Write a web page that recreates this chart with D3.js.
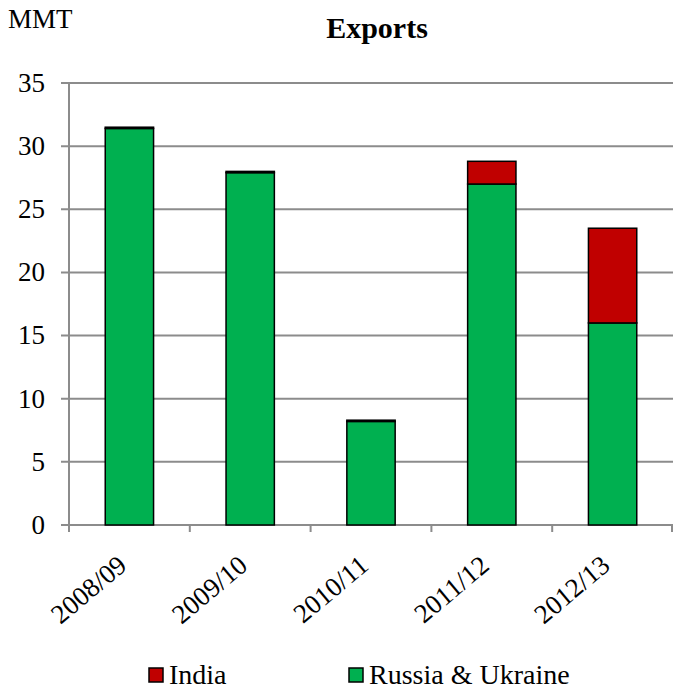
<!DOCTYPE html>
<html>
<head>
<meta charset="utf-8">
<script src="https://cdn.jsdelivr.net/npm/d3@7"></script>
<style>
  body { margin: 0; background: #fff; }
  svg { display: block; font-family: "Liberation Serif", "Times New Roman", serif; }
</style>
</head>
<body>
<svg id="chart" width="673" height="690"></svg>
<script>
// data (MMT)
var years = ["2008/09", "2009/10", "2010/11", "2011/12", "2012/13"];
var russiaUkraine = [31.4, 27.9, 8.2, 27.0, 16.0];
var india = [0.1, 0.1, 0.1, 1.8, 7.5];
var yTicks = [0, 5, 10, 15, 20, 25, 30, 35];

var seriesNames = ["Russia & Ukraine", "India"];
var colors = { "Russia & Ukraine": "#00b050", "India": "#c00000" };

var svg = d3.select("#chart");
var plotLeft = 69, plotRight = 673, plotTop = 83, plotBottom = 525;

var x = d3.scaleBand().domain(years).range([plotLeft, plotRight]).paddingInner(0.6).paddingOuter(0.3);
var xTick = d3.scaleBand().domain(years).range([plotLeft, plotRight]);
var y = d3.scaleLinear().domain([0, 35]).range([plotBottom, plotTop]);

// gridlines
svg.append("g").selectAll("line").data(yTicks).enter().append("line")
  .attr("x1", plotLeft - 8).attr("x2", plotRight)
  .attr("y1", function (d) { return y(d); }).attr("y2", function (d) { return y(d); })
  .attr("stroke", "#8c8c8c").attr("stroke-width", 2);

// y axis line
svg.append("line").attr("x1", plotLeft).attr("x2", plotLeft).attr("y1", plotTop).attr("y2", plotBottom + 7)
  .attr("stroke", "#8c8c8c").attr("stroke-width", 2);

// x ticks
svg.append("g").selectAll("line").data(years.concat(["end"])).enter().append("line")
  .attr("x1", function (d, i) { return i < years.length ? xTick(d) : plotRight - 1; })
  .attr("x2", function (d, i) { return i < years.length ? xTick(d) : plotRight - 1; })
  .attr("y1", plotBottom).attr("y2", plotBottom + 7)
  .attr("stroke", "#8c8c8c").attr("stroke-width", 2);

// y tick labels
svg.append("g").selectAll("text").data(yTicks).enter().append("text")
  .attr("x", 45).attr("y", function (d) { return y(d); })
  .attr("dy", "0.33em").attr("text-anchor", "end")
  .attr("font-size", 27).text(function (d) { return d; });

// stacked bars
var rows = years.map(function (yr, i) {
  return { year: yr, "Russia & Ukraine": russiaUkraine[i], "India": india[i] };
});
var stacked = d3.stack().keys(seriesNames)(rows);

svg.append("g").selectAll("g").data(stacked).enter().append("g")
  .attr("fill", function (d) { return colors[d.key]; })
  .selectAll("rect").data(function (d) { return d; }).enter().append("rect")
  .attr("x", function (d) { return x(d.data.year); })
  .attr("width", x.bandwidth())
  .attr("y", function (d) { return y(d[1]); })
  .attr("height", function (d) { return y(d[0]) - y(d[1]); })
  .attr("stroke", "#000").attr("stroke-width", 1.5);

// x labels, rotated
svg.append("g").selectAll("text").data(years).enter().append("text")
  .attr("transform", function (d) {
    return "translate(" + (x(d) + x.bandwidth() / 2 - 1) + "," + (plotBottom + 43) + ") rotate(-40)";
  })
  .attr("text-anchor", "end").attr("font-size", 27).text(function (d) { return d; });

// title and unit
svg.append("text").attr("x", 377).attr("y", 38).attr("text-anchor", "middle")
  .attr("font-size", 30).attr("font-weight", "bold").text("Exports");
svg.append("text").attr("x", 8).attr("y", 28).attr("font-size", 27).text("MMT");

// legend
var legendItems = [{ name: "India", x: 149 }, { name: "Russia & Ukraine", x: 349 }];
var lg = svg.append("g").selectAll("g").data(legendItems).enter().append("g")
  .attr("transform", function (d) { return "translate(" + d.x + ",0)"; });
lg.append("rect").attr("x", 0).attr("y", 668).attr("width", 14).attr("height", 14)
  .attr("fill", function (d) { return colors[d.name]; })
  .attr("stroke", "#000").attr("stroke-width", 1.5);
lg.append("text").attr("x", 20).attr("y", 684).attr("font-size", 28)
  .text(function (d) { return d.name; });
</script>
</body>
</html>
